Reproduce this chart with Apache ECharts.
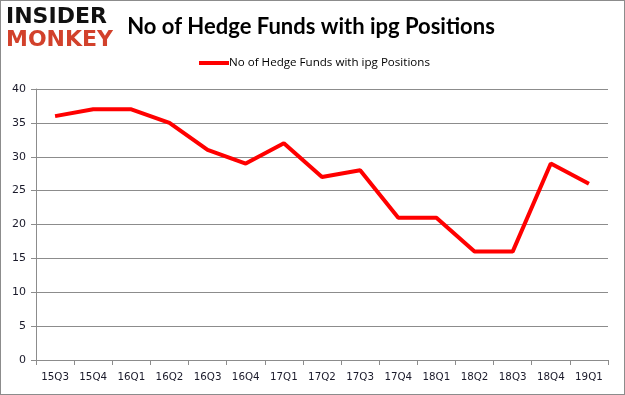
<!DOCTYPE html>
<html><head><meta charset="utf-8">
<script src="https://cdn.jsdelivr.net/npm/echarts@6/dist/echarts.min.js"></script>
<style>html,body{margin:0;padding:0;background:#fff}#c{width:625px;height:395px;box-sizing:border-box;border:1px solid #8c8c8c}</style>
</head><body><div id="c"></div>
<script>
var categories = ['15Q3','15Q4','16Q1','16Q2','16Q3','16Q4','17Q1','17Q2','17Q3','17Q4','18Q1','18Q2','18Q3','18Q4','19Q1'];
var values = [36,37,37,35,31,29,32,27,28,21,21,16,16,29,26];
var seriesName = 'No of Hedge Funds with ipg Positions';
var titleText = 'No of Hedge Funds with ipg Positions';

var chart = echarts.init(document.getElementById('c'), null, {renderer:'canvas'});
chart.setOption({
  animation:false,
  backgroundColor:'#fff',
  title:{text:titleText,left:305,textAlign:'center',top:10,
    textStyle:{fontFamily:'Lato, "Open Sans", sans-serif',fontWeight:'bold',fontSize:22,color:'#000'}},
  legend:{top:56,left:198,padding:0,itemWidth:30,itemHeight:4,itemGap:0,icon:'rect',
    textStyle:{fontFamily:'"Open Sans", Lato, sans-serif',fontSize:11.6,color:'#000',padding:[0,0,0,-5]},
    data:[seriesName]},
  graphic:[
    {type:'text',left:5,top:5,style:{text:'INSIDER',fill:'#111',font:'900 22px "DejaVu Sans", sans-serif'}},
    {type:'text',left:5,top:28,style:{text:'MONKEY',fill:'#d2412b',font:'900 22px "DejaVu Sans", sans-serif'}}
  ],
  grid:{left:35,right:16,top:88,bottom:34,containLabel:false},
  xAxis:{type:'category',data:categories,boundaryGap:true,
    axisLine:{lineStyle:{color:'#8c8c8c',width:1}},
    axisTick:{show:true,length:5,interval:0,lineStyle:{color:'#8c8c8c'},alignWithLabel:false},
    axisLabel:{interval:0,margin:12,fontFamily:'"DejaVu Sans", Verdana, sans-serif',fontSize:10.3,color:'#1a1a2a'}},
  yAxis:{type:'value',min:0,max:40,interval:5,
    axisLine:{show:true,lineStyle:{color:'#8c8c8c'}},
    axisTick:{show:true,length:5,lineStyle:{color:'#8c8c8c'}},
    splitLine:{lineStyle:{color:'#8c8c8c',width:1}},
    axisLabel:{margin:10,fontFamily:'"DejaVu Sans", Verdana, sans-serif',fontSize:11,color:'#1a1a2a'}},
  series:[{name:seriesName,type:'line',data:values,symbol:'none',
    lineStyle:{color:'#ff0000',width:4},itemStyle:{color:'#ff0000'}}]
});
</script></body></html>
